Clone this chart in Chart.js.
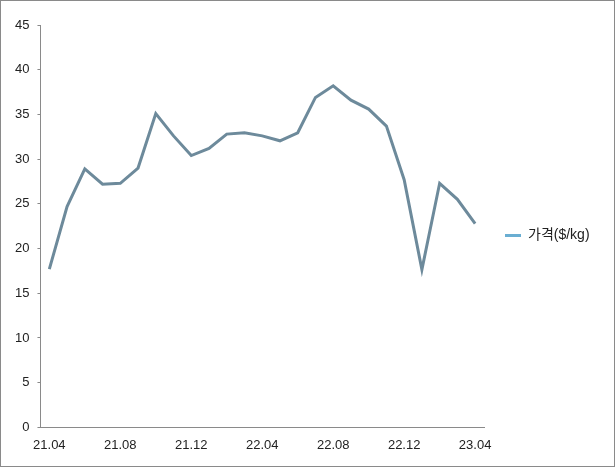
<!DOCTYPE html>
<html>
<head>
<meta charset="utf-8">
<script src="https://cdn.jsdelivr.net/npm/chart.js@4"></script>
<style>
    body { margin: 0; background: #fff; }
    #wrap {
        position: relative;
        width: 613px;
        height: 465px;
        border: 1px solid #8a8a8a;
        background: #fff;
    }
    #legend {
        position: absolute;
        left: 504px;
        top: 222px;
        font-family: "Liberation Sans", "Noto Sans CJK KR", sans-serif;
        font-size: 14px;
        color: #222;
        white-space: nowrap;
    }
    #legend .swatch {
        display: inline-block;
        width: 16px;
        height: 3px;
        background: #6aaed2;
        vertical-align: middle;
        margin-right: 7px;
    }
</style>
</head>
<body>
<div id="wrap">
    <canvas id="price-chart" width="613" height="465"></canvas>
    <div id="legend"><span class="swatch"></span>가격($/kg)</div>
</div>
<script>
// Monthly price, 21.04 - 23.04
const months = [
    '21.04', '21.05', '21.06', '21.07', '21.08', '21.09', '21.10', '21.11', '21.12',
    '22.01', '22.02', '22.03', '22.04', '22.05', '22.06', '22.07', '22.08', '22.09',
    '22.10', '22.11', '22.12', '23.01', '23.02', '23.03', '23.04'
];
const prices = [
    17.7, 24.7, 28.9, 27.2, 27.3, 29.0, 35.1, 32.6, 30.4,
    31.2, 32.8, 32.95, 32.6, 32.05, 32.95, 36.9, 38.2, 36.6,
    35.6, 33.7, 27.7, 17.65, 27.3, 25.5, 22.8
];
const yTicks = { min: 0, max: 45, step: 5 };

const fontFamily = '"Liberation Sans", "Noto Sans CJK KR", sans-serif';

const ctx = document.getElementById('price-chart');
new Chart(ctx, {
    type: 'line',
    data: {
        labels: months,
        datasets: [{
            label: '가격($/kg)',
            data: prices,
            borderColor: '#6d8a9b',
            borderWidth: 3,
            pointRadius: 0,
            tension: 0,
            fill: false
        }]
    },
    options: {
        responsive: false,
        animation: false,
        layout: {
            padding: { left: 6, right: 130, top: 24, bottom: 11 }
        },
        plugins: {
            legend: { display: false },
            tooltip: { enabled: false }
        },
        scales: {
            x: {
                offset: true,
                grid: { display: false },
                border: { display: true, color: '#8a8a8a', width: 1 },
                ticks: {
                    autoSkip: false,
                    maxRotation: 0,
                    padding: 2,
                    color: '#222',
                    font: { family: fontFamily, size: 13 },
                    callback: function (value, index) {
                        return index % 4 === 0 ? months[index] : '';
                    }
                }
            },
            y: {
                min: yTicks.min,
                max: yTicks.max,
                grid: {
                    drawOnChartArea: false,
                    drawTicks: true,
                    tickLength: 3,
                    color: '#8a8a8a'
                },
                border: { display: true, color: '#8a8a8a', width: 1 },
                ticks: {
                    stepSize: yTicks.step,
                    padding: 8,
                    color: '#222',
                    font: { family: fontFamily, size: 13 }
                }
            }
        }
    }
});
</script>
</body>
</html>
